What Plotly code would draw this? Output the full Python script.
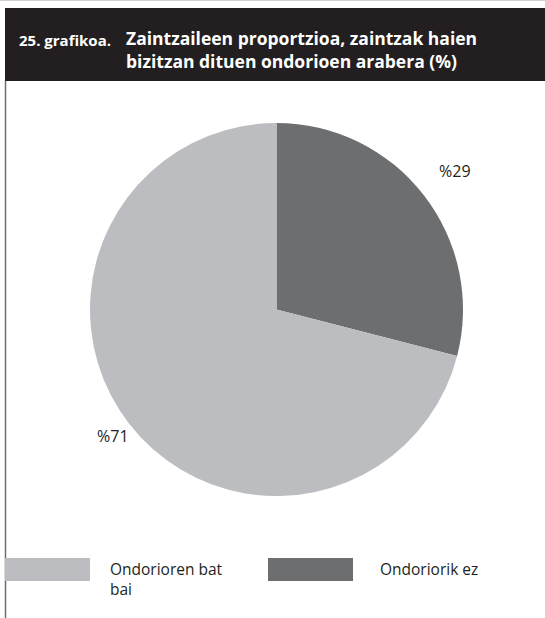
import math
import plotly.graph_objects as go

# ---- data ----
categories = ["Ondoriorik ez", "Ondorioren bat<br>bai"]
values = [29, 71]
value_labels = ["%29", "%71"]
colors = ["#6d6e70", "#bcbdc0"]
title_prefix = "25. grafikoa."
title_lines = ["Zaintzaileen proportzioa, zaintzak haien", "bizitzan dituen ondorioen arabera (%)"]

W, H = 545, 618
FONT = "Open Sans"

def px(x):
    return x / W

def py(y):
    return 1 - y / H

cx, cy, r = 276.5, 309.5, 186.5

fig = go.Figure()
fig.add_trace(go.Pie(
    labels=categories,
    values=values,
    marker=dict(colors=colors, line=dict(width=0)),
    sort=False,
    direction="clockwise",
    rotation=0,
    textinfo="none",
    hoverinfo="label+percent",
    showlegend=False,
    domain=dict(x=[px(cx - r), px(cx + r)], y=[py(cy + r), py(cy - r)]),
))

# value labels placed around the pie from the data
label_radius = [1.21, 1.11]
total = sum(values)
cum = 0
for v, lab, k in zip(values, value_labels, label_radius):
    mid = (cum + v / 2) / total * 2 * math.pi
    cum += v
    lx = cx + k * r * math.sin(mid)
    ly = cy - k * r * math.cos(mid)
    fig.add_annotation(x=px(lx), y=py(ly), xref="paper", yref="paper",
                       xanchor="center", yanchor="middle",
                       text=lab, showarrow=False,
                       font=dict(family=FONT, size=16, color="#231f20"))

shapes = []
# header bar
shapes.append(dict(type="rect", xref="paper", yref="paper",
                   x0=px(5), x1=1, y0=py(81), y1=py(8),
                   fillcolor="#231f20", line=dict(width=0), layer="below"))
# left vertical rule
shapes.append(dict(type="line", xref="paper", yref="paper",
                   x0=px(5.5), x1=px(5.5), y0=0, y1=py(81),
                   line=dict(color="#6d6e70", width=1.5)))
# top hairline
shapes.append(dict(type="line", xref="paper", yref="paper",
                   x0=0, x1=1, y0=py(0.5), y1=py(0.5),
                   line=dict(color="#d0d0d0", width=1)))

# legend swatches
legend_items = [(1, 5, 108), (0, 268, 378)]
for idx, x0, tx in legend_items:
    shapes.append(dict(type="rect", xref="paper", yref="paper",
                       x0=px(x0), x1=px(x0 + 85), y0=py(581), y1=py(558),
                       fillcolor=colors[idx], line=dict(width=0)))
    fig.add_annotation(x=px(tx), y=py(556), xref="paper", yref="paper",
                       xanchor="left", yanchor="top", align="left",
                       text=categories[idx], showarrow=False,
                       font=dict(family=FONT, size=15.5, color="#231f20"))

# title
fig.add_annotation(x=px(17), y=py(40), xref="paper", yref="paper",
                   xanchor="left", yanchor="middle",
                   text="<b>" + title_prefix + "</b>", showarrow=False,
                   font=dict(family=FONT, size=15, color="white"))
fig.add_annotation(x=px(124), y=py(49), xref="paper", yref="paper",
                   xanchor="left", yanchor="middle", align="left",
                   text="<b>" + title_lines[0] + "<br>" + title_lines[1] + "</b>",
                   showarrow=False,
                   font=dict(family=FONT, size=17.5, color="white"))

fig.update_layout(
    width=W, height=H,
    margin=dict(l=0, r=0, t=0, b=0),
    paper_bgcolor="white",
    plot_bgcolor="white",
    shapes=shapes,
    showlegend=False,
)

fig.write_html("out.html", config={"displayModeBar": False},
               post_script="document.body.style.margin='0';document.body.style.overflow='hidden';")
